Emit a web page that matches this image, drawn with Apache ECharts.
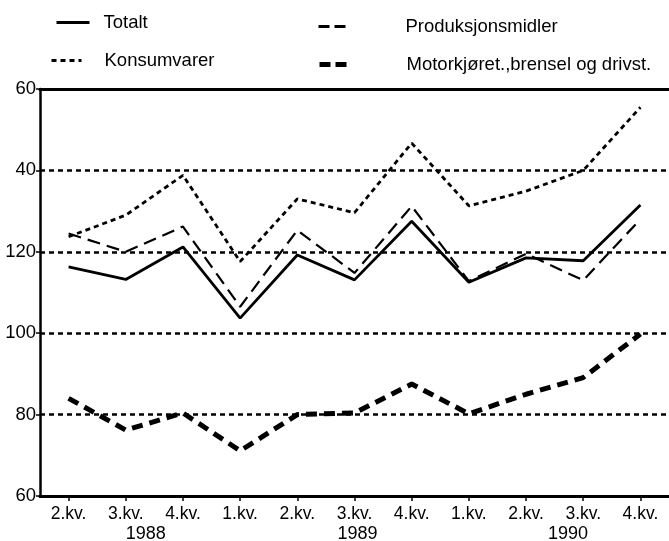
<!DOCTYPE html>
<html><head><meta charset="utf-8">
<script src="https://cdn.jsdelivr.net/npm/echarts@6/dist/echarts.min.js"></script>
<style>html,body{margin:0;padding:0;background:#fff}#c{width:669px;height:541px}</style>
</head><body><div id="c"></div>
<script>
const categories = ['2.kv.','3.kv.','4.kv.','1.kv.','2.kv.','3.kv.','4.kv.','1.kv.','2.kv.','3.kv.','4.kv.'];
const yearLabels = ['', '1988', '', '', '', '1989', '', '', '1990', '', ''];
const totalt = [116.3, 113.2, 121.2, 103.7, 119.2, 113.1, 127.5, 112.5, 118.5, 117.8, 131.5];
const konsumvarer = [123.7, 129.0, 138.8, 117.6, 133.0, 129.6, 146.7, 131.3, 134.9, 140.0, 155.5];
const produksjonsmidler = [124.5, 120.0, 126.2, 106.5, 125.3, 114.8, 131.2, 112.8, 119.5, 113.0, 128.0];
const motorkjoret = [84.0, 76.2, 80.4, 71.1, 80.0, 80.4, 87.5, 80.2, 85.0, 89.1, 99.8];
const yTickValues = [60, 80, 100, 120, 140, 160];
const yTickLabels = ['60', '80', '100', '120', '40', '60'];
const seriesNames = ['Totalt', 'Konsumvarer', 'Produksjonsmidler', 'Motorkjøret.,brensel og drivst.'];

const FONT = '"Liberation Sans", Arial, sans-serif';
const yearStyle = { '1988': 'ya', '1989': 'yb', '1990': 'yc' };

const lineStyles = [
  { color: '#000', width: 2.8, type: 'solid' },
  { color: '#000', width: 2.8, type: [5, 4] },
  { color: '#000', width: 2.2, type: [13, 7] },
  { color: '#000', width: 5, type: [11, 7] }
];
const legendLineStyles = [
  { color: '#000', width: 3, type: 'solid' },
  { color: '#000', width: 3, type: [5, 4] },
  { color: '#000', width: 3, type: [11, 5] },
  { color: '#000', width: 5, type: [11, 5] }
];

const chart = echarts.init(document.getElementById('c'), null, { renderer: 'canvas' });

function legendAt(idx, left, top, iconW, textPad) {
  return {
    data: [seriesNames[idx]], left: left, top: top, orient: 'horizontal',
    itemWidth: iconW, itemHeight: 12, itemGap: 0, padding: 0,
    selectedMode: false,
    itemStyle: { opacity: 0 },
    lineStyle: legendLineStyles[idx],
    textStyle: { fontFamily: FONT, fontSize: 18.5, color: '#000', padding: [0, 0, 0, textPad] }
  };
}

const yearRich = { fontFamily: FONT, fontSize: 18, color: '#000', lineHeight: 21 };

const option = {
  backgroundColor: '#fff',
  animation: false,
  legend: [
    legendAt(0, 55, 13, 33, 9),
    legendAt(1, 50, 51, 30, 18),
    legendAt(2, 317, 17, 27, 55),
    legendAt(3, 317, 55, 27, 55)
  ],
  grid: { left: 40, right: 0, top: 89, bottom: 45, containLabel: false, outerBoundsMode: 'none' },
  xAxis: [
    {
      type: 'category', data: categories, boundaryGap: true,
      axisLine: { show: true, lineStyle: { color: '#000', width: 3 } },
      axisTick: { show: true, alignWithLabel: true, length: 5, lineStyle: { color: '#000', width: 1.5 } },
      axisLabel: {
        show: true, interval: 0, margin: 9, color: '#000', fontFamily: FONT, fontSize: 17.5, lineHeight: 19,
        formatter: function (v, i) {
          const y = yearLabels[i];
          return y ? v + '\n{' + yearStyle[y] + '|' + y + '}' : v;
        },
        rich: {
          ya: Object.assign({ padding: [0, 0, 0, 40] }, yearRich),
          yb: Object.assign({ padding: [0, 0, 0, 6] }, yearRich),
          yc: Object.assign({ padding: [0, 0, 0, 84] }, yearRich)
        }
      },
      splitLine: { show: false }
    },
    {
      type: 'category', data: categories, position: 'top', boundaryGap: true,
      axisLine: { show: true, lineStyle: { color: '#000', width: 3 } },
      axisTick: { show: false }, axisLabel: { show: false }, splitLine: { show: false }
    }
  ],
  yAxis: {
    type: 'value', min: 60, max: 160, interval: 20,
    axisLine: { show: true, lineStyle: { color: '#000', width: 2.5 } },
    axisTick: { show: true, length: 4, lineStyle: { color: '#000', width: 1.5 } },
    axisLabel: {
      show: true, margin: 4, color: '#000', fontFamily: FONT, fontSize: 18.5,
      formatter: function (v) { const k = yTickValues.indexOf(v); return k >= 0 ? yTickLabels[k] : ''; }
    },
    splitLine: { show: true, lineStyle: { color: '#000', width: 2.5, type: [5, 4] } }
  },
  series: [totalt, konsumvarer, produksjonsmidler, motorkjoret].map(function (d, i) {
    return {
      name: seriesNames[i], type: 'line', data: d, symbol: 'none', showSymbol: false,
      lineStyle: lineStyles[i], itemStyle: { color: '#000' }, z: i === 0 ? 5 : 4
    };
  })
};
chart.setOption(option);
</script>
</body></html>
